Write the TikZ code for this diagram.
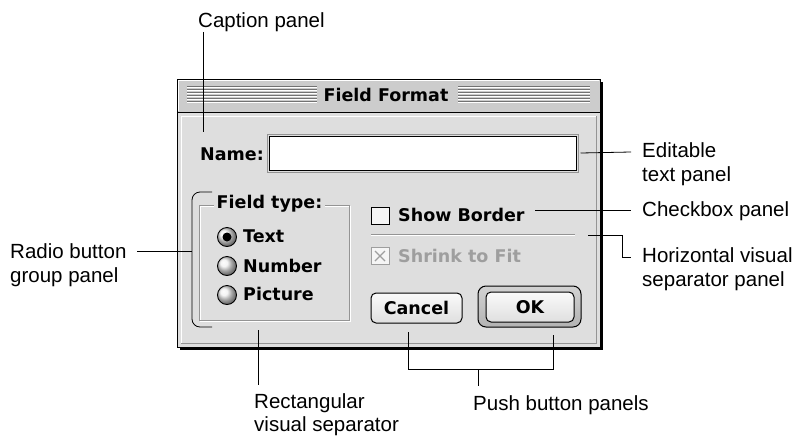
\documentclass[tikz,border=0pt]{standalone}
\usepackage{fontspec}
\setmainfont{Liberation Sans}
\newfontfamily\uifont{DejaVu Sans}
\usetikzlibrary{fit}

\definecolor{dlgbody}{gray}{0.87}
\definecolor{dlgtitle}{gray}{0.80}
\definecolor{etchdark}{gray}{0.58}
\definecolor{stripedark}{gray}{0.45}
\definecolor{dimtext}{gray}{0.62}

\begin{document}
\begin{tikzpicture}[x=1pt,y=-1pt,
  conn/.style={draw=black, line width=0.8pt},
  lbl/.style={font=\fontsize{20.5}{23.3}\selectfont, inner sep=0pt, anchor=base west, align=left},
  ui/.style={font=\uifont\bfseries\fontsize{17.5}{20}\selectfont, inner sep=0pt,
             text height=12.8pt, text depth=0pt},
  radio/.style={circle, draw=black, line width=0.9pt, minimum size=19pt, inner sep=0pt,
                ball color=gray!12},
  chkbox/.style={draw=black, line width=1pt, fill=gray!8, minimum width=18pt,
                 minimum height=17pt, inner sep=0pt},
  btn/.style={ui, draw=black, line width=1pt, rounded corners=5pt,
              top color=gray!4, bottom color=gray!25}]
\useasboundingbox (0,0) rectangle (798,437);

% ---- window frame with drop shadow ----
\fill[black] (180,82) rectangle (603,350);
\draw[black, fill=dlgbody, line width=1pt] (177,79) rectangle (600,347);

% ---- title bar ----
\fill[dlgtitle] (177.5,79.5) rectangle (599.5,112);
\draw[white] (178.5,111) -- (178.5,80.5) -- (599,80.5);
\draw[black, line width=1pt] (177,112.5) -- (600,112.5);
\foreach \k in {0,...,5}{
  \draw[stripedark] (187,86+3*\k) -- (317,86+3*\k);
  \draw[white]      (187,87+3*\k) -- (317,87+3*\k);
  \draw[stripedark] (458,86+3*\k) -- (590,86+3*\k);
  \draw[white]      (458,87+3*\k) -- (590,87+3*\k);
}
\node[ui] (title) at (386,95.3) {Field Format};

% ---- inner bevel of the content area ----
\draw[white, line width=1pt] (181,343) -- (181,116) -- (596,116);
\draw[etchdark, line width=1pt] (596,116) -- (596,343) -- (181,343);

% ---- name field ----
\node[ui, anchor=west] (namelbl) at (200,154) {Name:};
\draw[etchdark] (267,134) rectangle (578,172);
\node[draw=black, fill=white, line width=1pt, inner sep=0pt,
      fit={(269,136) (576,170)}] (namefield) {};

% ---- field type group ----
\draw[white] (200,206) rectangle (350,321);
\draw[etchdark] (199,205) rectangle (349,320);
\node[ui, fill=dlgbody, inner xsep=3pt] (ftype) at (269.5,202) {Field type:};

\node[radio] (rb1) at (227,237) {};
\fill[black] (rb1) circle (4.5);
\node[radio] (rb2) at (227,266) {};
\node[radio] (rb3) at (227,295) {};
\node[ui, anchor=west] (rt1) at (243,236.5) {Text};
\node[ui, anchor=west] (rt2) at (243,266) {Number};
\node[ui, anchor=west] (rt3) at (243,294) {Picture};

% ---- checkboxes and separator ----
\node[chkbox] (cb1) at (380,215.5) {};
\node[ui, anchor=west] (cb1text) at (398,215.5) {Show Border};
\draw[etchdark] (371,234.5) -- (575,234.5);
\draw[white] (371,235.5) -- (575,235.5);
\coordinate (sep) at (575,235);
\node[chkbox, draw=dimtext] (cb2) at (380,256) {};
\draw[dimtext, line width=1.2pt] (375,251) -- (385,261) (385,251) -- (375,261);
\node[ui, anchor=west, text=dimtext] (cb2text) at (398,256) {Shrink to Fit};

% ---- push buttons ----
\node[btn, minimum width=91pt, minimum height=30pt] (cancel) at (416.5,308) {Cancel};
\node[draw=black, line width=1pt, rounded corners=8pt, minimum width=103pt,
      minimum height=41pt, inner sep=0pt, top color=gray!35, bottom color=gray!60]
      (okring) at (529.5,306.5) {};
\node[btn, minimum width=88pt, minimum height=30pt] (ok) at (530,307) {OK};

% ---- group bracket ----
\draw[conn, rounded corners=8pt] (212,192) -- (192,192) -- (192,327) -- (212,327);
\coordinate (brk) at (192,251);

% ---- callout labels (base anchor sits on the last line) ----
\node[lbl] (lcap) at (198,27.3) {Caption panel};
\node[lbl] (ledit) at (642,181) {Editable\\text panel};
\node[lbl] (lchk) at (642,216.7) {Checkbox panel};
\node[lbl] (lhsep) at (642,286) {Horizontal visual\\separator panel};
\node[lbl] (lradio) at (10,282) {Radio button\\group panel};
\node[lbl] (lrect) at (254,431.8) {Rectangular\\visual separator};
\node[lbl] (lpush) at (473,410) {Push button panels};

% ---- callout lines ----
\coordinate (capend) at (203,132);
\draw[conn] (capend |- lcap.south) -- (capend);

\coordinate (edit-b) at (631,152);
\draw[conn] ([xshift=4pt]namefield.east) -- (edit-b);

\coordinate (chk-a) at (535,210);
\coordinate (chk-b) at (631,210);
\draw[conn] (chk-a) -- (chk-b);

\coordinate (hsep-a) at (622,235);
\coordinate (hsep-b) at (622,257);
\coordinate (hsep-c) at (631,257);
\draw[conn] ([xshift=13pt]sep) -- (hsep-a) -- (hsep-b) -- (hsep-c);

\coordinate (radio-a) at (137,251);
\draw[conn] (radio-a) -- (brk);

\coordinate (rect-a) at (258,330);
\coordinate (rect-b) at (258,385);
\draw[conn] (rect-a) -- (rect-b);

\coordinate (push-c) at (408,332);
\coordinate (push-l) at (408,369);
\coordinate (push-r) at (553,369);
\coordinate (push-o) at (553,335);
\coordinate (push-m) at (478,369);
\coordinate (push-e) at (478,386);
\draw[conn] (push-c) -- (push-l) -- (push-r) -- (push-o);
\draw[conn] (push-m) -- (push-e);
\end{tikzpicture}
\end{document}
